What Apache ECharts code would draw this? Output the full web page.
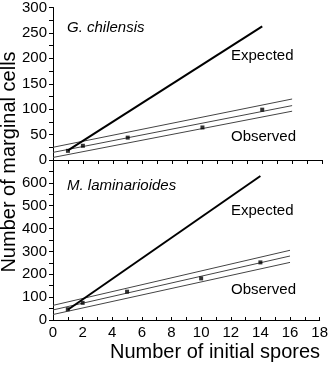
<!DOCTYPE html>
<html><head><meta charset="utf-8">
<script src="https://cdn.jsdelivr.net/npm/echarts@6/dist/echarts.min.js"></script>
<style>html,body{margin:0;padding:0;background:#fff}#c{width:331px;height:365px}</style>
</head><body><div id="c"></div>
<script>
// Data
const spores = [1, 2, 5, 10, 14];
const gObserved = [18, 28, 44, 64, 99];
const mObserved = [47, 75, 124, 182, 252];
const expectedX = [1, 14];
const gExpected = [18.8, 263];
const mExpected = [45, 630];
const fitX = [0, 16];
const gFit = [15, 107];
const gUpper = [25, 120];
const gLower = [5, 96];
const mFit = [44, 280];
const mUpper = [64, 305];
const mLower = [24, 252];
const xTicks = [0, 2, 4, 6, 8, 10, 12, 14, 16, 18];

const FONT = 'Arial, "Liberation Sans", sans-serif';
const pair = (xs, ys) => xs.map((x, i) => [x, ys[i]]);

const chart = echarts.init(document.getElementById('c'), null, {renderer: 'canvas'});
const axisLineStyle = {color: '#000', width: 1};

function lineSeries(xi, data, width, color) {
  return {type: 'line', xAxisIndex: xi, yAxisIndex: xi, data: data, symbol: 'none',
    lineStyle: {color: color, width: width}, silent: true, animation: false, z: 2};
}
function pts(xi, data) {
  return {type: 'scatter', xAxisIndex: xi, yAxisIndex: xi, data: data, symbol: 'rect',
    symbolSize: 4, itemStyle: {color: '#000'}, silent: true, animation: false, z: 3};
}

chart.setOption({
  animation: false,
  textStyle: {fontFamily: FONT},
  grid: [
    {left: 53, right: 9, top: 2, height: 158},
    {left: 53, right: 9, top: 160, height: 160}
  ],
  xAxis: [
    {gridIndex: 0, type: 'value', min: 0, max: 18, interval: 1,
     axisLine: {show: true, onZero: false, lineStyle: axisLineStyle},
     axisTick: {show: true, inside: false, length: 4, lineStyle: axisLineStyle},
     axisLabel: {show: false}, splitLine: {show: false}},
    {gridIndex: 1, type: 'value', min: 0, max: 18, interval: 2,
     axisLine: {show: true, onZero: false, lineStyle: axisLineStyle},
     axisTick: {show: true, inside: true, length: 3, lineStyle: axisLineStyle},
     minorTick: {show: true, splitNumber: 2, length: 3, lineStyle: axisLineStyle},
     axisLabel: {show: true, color: '#000', fontSize: 15, fontFamily: FONT, margin: 5,
       formatter: v => (xTicks.indexOf(v) >= 0 ? String(v) : '')},
     splitLine: {show: false}, minorSplitLine: {show: false}}
  ],
  yAxis: [
    {gridIndex: 0, type: 'value', min: 0, max: 300, interval: 50,
     axisLine: {show: true, onZero: false, lineStyle: axisLineStyle},
     axisTick: {show: true, length: 4, lineStyle: axisLineStyle},
     minorTick: {show: true, splitNumber: 2, length: 4, lineStyle: axisLineStyle},
     axisLabel: {color: '#000', fontSize: 15, fontFamily: FONT, margin: 6},
     splitLine: {show: false}, minorSplitLine: {show: false}},
    {gridIndex: 1, type: 'value', min: 0, max: 700, interval: 100,
     axisLine: {show: true, onZero: false, lineStyle: axisLineStyle},
     axisTick: {show: true, length: 4, lineStyle: axisLineStyle},
     minorTick: {show: true, splitNumber: 2, length: 4, lineStyle: axisLineStyle},
     axisLabel: {color: '#000', fontSize: 15, fontFamily: FONT, margin: 6,
       formatter: v => (v >= 700 ? '' : String(v))},
     splitLine: {show: false}, minorSplitLine: {show: false}}
  ],
  series: [
    lineSeries(0, pair(fitX, gUpper), 1, '#444'),
    lineSeries(0, pair(fitX, gFit), 1, '#444'),
    lineSeries(0, pair(fitX, gLower), 1, '#444'),
    lineSeries(0, pair(expectedX, gExpected), 2, '#000'),
    pts(0, pair(spores, gObserved)),
    lineSeries(1, pair(fitX, mUpper), 1, '#444'),
    lineSeries(1, pair(fitX, mFit), 1, '#444'),
    lineSeries(1, pair(fitX, mLower), 1, '#444'),
    lineSeries(1, pair(expectedX, mExpected), 2, '#000'),
    pts(1, pair(spores, mObserved))
  ],
  graphic: [
    {type: 'text', left: 67, top: 20, style: {text: 'G. chilensis', font: 'italic 15px ' + FONT, fill: '#000'}},
    {type: 'text', left: 231, top: 48, style: {text: 'Expected', font: '15px ' + FONT, fill: '#000'}},
    {type: 'text', left: 231, top: 129, style: {text: 'Observed', font: '15px ' + FONT, fill: '#000'}},
    {type: 'text', left: 67, top: 178, style: {text: 'M. laminarioides', font: 'italic 15px ' + FONT, fill: '#000'}},
    {type: 'text', left: 231, top: 203, style: {text: 'Expected', font: '15px ' + FONT, fill: '#000'}},
    {type: 'text', left: 231, top: 282, style: {text: 'Observed', font: '15px ' + FONT, fill: '#000'}},
    {type: 'text', x: 215, y: 352, style: {text: 'Number of initial spores', font: '20px ' + FONT, fill: '#000',
      textAlign: 'center', textVerticalAlign: 'middle'}},
    {type: 'text', x: 9, y: 162, rotation: Math.PI / 2, style: {text: 'Number of marginal cells', font: '20px ' + FONT, fill: '#000',
      textAlign: 'center', textVerticalAlign: 'middle'}}
  ]
});
</script></body></html>
